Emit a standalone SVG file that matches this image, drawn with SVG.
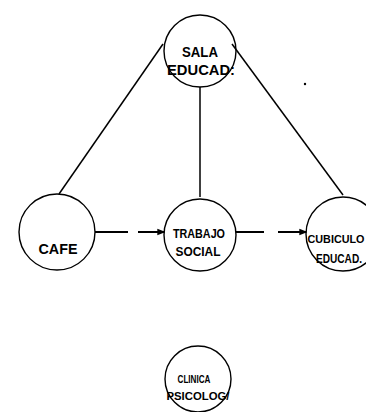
<svg xmlns="http://www.w3.org/2000/svg" width="366" height="412" viewBox="0 0 366 412">
  <style>
    .node { fill: none; stroke: #000; stroke-width: 1.4; }
    .edge { fill: none; stroke: #000; stroke-width: 1.5; }
    .flow { fill: none; stroke: #000; stroke-width: 2; }
    .lbl { font-family: "Liberation Sans", "DejaVu Sans", sans-serif; font-weight: bold; fill: #000; text-anchor: middle; }
  </style>
  <defs>
    <marker id="tip" viewBox="0 0 6 6" refX="5" refY="3" markerWidth="4" markerHeight="4" orient="auto" markerUnits="strokeWidth">
      <path d="M0,0.5 L6,3 L0,5.5 Z" fill="#000"/>
    </marker>
  </defs>
  <rect width="366" height="412" fill="#fff"/>

  <!-- connectors -->
  <g id="connectors">
    <line class="edge" x1="163" y1="44" x2="59" y2="194"/>
    <line class="edge" x1="200" y1="87" x2="200" y2="197"/>
    <line class="edge" x1="232" y1="44" x2="343" y2="195"/>
    <line class="flow" x1="95" y1="232" x2="128" y2="232"/>
    <line class="flow" x1="138" y1="232" x2="164" y2="232" marker-end="url(#tip)"/>
    <line class="flow" x1="236" y1="232" x2="264" y2="232"/>
    <line class="flow" x1="278" y1="232" x2="306" y2="232" marker-end="url(#tip)"/>
    <circle cx="305" cy="84" r="1.2" fill="#000"/>
  </g>

  <!-- nodes -->
  <g id="sala">
    <circle class="node" cx="200" cy="51" r="36"/>
    <text class="lbl" x="200" y="57" font-size="14" textLength="36" lengthAdjust="spacingAndGlyphs">SALA</text>
    <text class="lbl" x="201" y="75" font-size="14" textLength="68" lengthAdjust="spacingAndGlyphs">EDUCAD:</text>
  </g>
  <g id="cafe">
    <circle class="node" cx="57" cy="232" r="38"/>
    <text class="lbl" x="58" y="254" font-size="15" textLength="39" lengthAdjust="spacingAndGlyphs">CAFE</text>
  </g>
  <g id="trabajo">
    <circle class="node" cx="200" cy="235" r="36"/>
    <text class="lbl" x="199" y="238" font-size="12" textLength="52" lengthAdjust="spacingAndGlyphs">TRABAJO</text>
    <text class="lbl" x="198" y="256" font-size="12" textLength="45" lengthAdjust="spacingAndGlyphs">SOCIAL</text>
  </g>
  <g id="cubiculo">
    <circle class="node" cx="343" cy="234" r="37"/>
    <text class="lbl" x="336" y="243" font-size="11" textLength="57" lengthAdjust="spacingAndGlyphs">CUBICULO</text>
    <text class="lbl" x="339" y="263" font-size="12" textLength="46" lengthAdjust="spacingAndGlyphs">EDUCAD.</text>
  </g>
  <g id="clinica">
    <circle class="node" cx="198" cy="379" r="33"/>
    <text class="lbl" x="194" y="383" font-size="10" textLength="33" lengthAdjust="spacingAndGlyphs">CLINICA</text>
    <text class="lbl" x="198" y="400" font-size="11" textLength="63" lengthAdjust="spacingAndGlyphs">PSICOLOG/</text>
  </g>
</svg>
